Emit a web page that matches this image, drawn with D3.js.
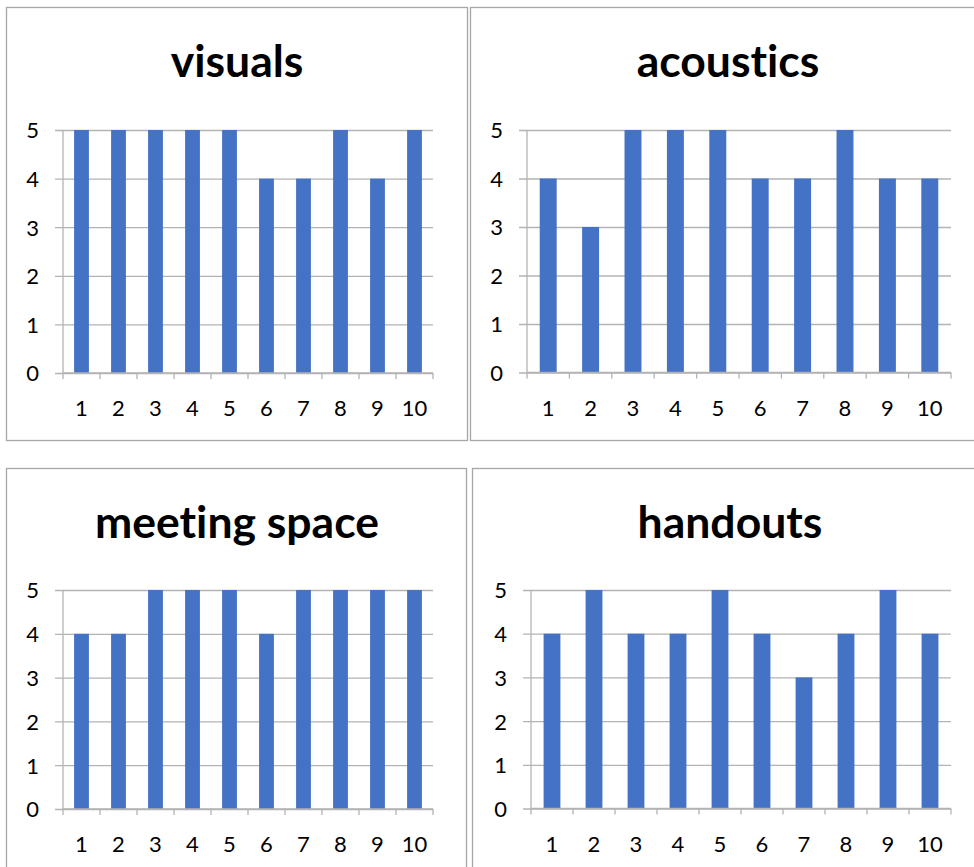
<!DOCTYPE html>
<html>
<head>
<meta charset="utf-8">
<script src="https://cdn.jsdelivr.net/npm/d3@7"></script>
<style>
  html, body { margin: 0; padding: 0; background: #fff; overflow: hidden; }
  svg { display: block; }
  text { font-family: Lato, "Open Sans", "Liberation Sans", sans-serif; fill: #000; font-variant-ligatures: none; }
</style>
</head>
<body>
<script>
// ---- data ----
const categories = ["1","2","3","4","5","6","7","8","9","10"];
const yTicks = [0, 1, 2, 3, 4, 5];
const titles = ["visuals", "acoustics", "meeting space", "handouts"];
const visuals = [5, 5, 5, 5, 5, 4, 4, 5, 4, 5];
const acoustics = [4, 3, 5, 5, 5, 4, 4, 5, 4, 4];
const meetingSpace = [4, 4, 5, 5, 5, 4, 5, 5, 5, 5];
const handouts = [4, 5, 4, 4, 5, 4, 3, 4, 5, 4];
const seriesList = [visuals, acoustics, meetingSpace, handouts];

// ---- layout (pixel geometry of each panel) ----
const panels = [
  { box: [6.5, 7.5, 461, 433], plot: [63, 130, 433, 373], titleX: 237, titleY: 77 },
  { box: [470.5, 7.5, 520, 433], plot: [527, 130, 951, 372.5], titleX: 728, titleY: 77 },
  { box: [6.5, 468.5, 460, 420], plot: [63, 590, 433, 809], titleX: 237, titleY: 538 },
  { box: [472.5, 468.5, 520, 420], plot: [531, 590, 951, 808.5], titleX: 730, titleY: 538 }
];

const W = 974, H = 867;
const svg = d3.select("body").append("svg").attr("width", W).attr("height", H);

const gridColor = "#b3b3b3";
const borderColor = "#a6a6a6";
const barColor = "#4472C4";

panels.forEach((p, i) => {
  const values = seriesList[i];
  const g = svg.append("g");

  g.append("rect")
    .attr("x", p.box[0]).attr("y", p.box[1])
    .attr("width", p.box[2]).attr("height", p.box[3])
    .attr("fill", "#fff").attr("stroke", borderColor).attr("stroke-width", 1.3);

  const [x0, y0, x1, y1] = p.plot;
  const x = d3.scaleBand().domain(categories).range([x0, x1])
    .paddingInner(0.6).paddingOuter(0.3);
  const y = d3.scaleLinear().domain([0, 5]).range([y1, y0]);

  g.append("text")
    .attr("x", p.titleX).attr("y", p.titleY)
    .attr("text-anchor", "middle")
    .style("font-size", "44.5px").style("font-weight", "bold")
    .text(titles[i]);

  const yAxis = d3.axisLeft(y).tickValues(yTicks).tickSize(-(x1 - x0)).tickSizeOuter(0).tickPadding(0)
    .tickFormat(d3.format("d"));
  const ya = g.append("g").attr("transform", `translate(${x0},0)`).call(yAxis);
  ya.select(".domain").remove();
  ya.selectAll(".tick line").attr("stroke", gridColor).attr("stroke-width", 1.3)
    .attr("x1", -8);
  ya.selectAll(".tick text")
    .attr("x", -24).attr("dy", "0.36em")
    .style("font-size", "22px").style("font-family", "Lato, 'Open Sans', sans-serif")
    .attr("fill", "#000");

  g.append("line")
    .attr("x1", x0).attr("x2", x0).attr("y1", y0).attr("y2", y1)
    .attr("stroke", gridColor).attr("stroke-width", 1.3);

  g.selectAll("rect.bar").data(values).enter().append("rect")
    .attr("class", "bar")
    .attr("x", (d, k) => x(categories[k]))
    .attr("width", x.bandwidth())
    .attr("y", d => y(d))
    .attr("height", d => y(0) - y(d))
    .attr("fill", barColor);

  const step = x.step();
  const boundaries = d3.range(categories.length + 1).map(k => x0 + k * step);
  g.append("line")
    .attr("x1", x0).attr("x2", x1).attr("y1", y1).attr("y2", y1)
    .attr("stroke", gridColor).attr("stroke-width", 1.3);
  g.selectAll("line.xt").data(boundaries).enter().append("line")
    .attr("class", "xt")
    .attr("x1", d => d).attr("x2", d => d)
    .attr("y1", y1).attr("y2", y1 + 6)
    .attr("stroke", gridColor).attr("stroke-width", 1.3);

  g.selectAll("text.xl").data(categories).enter().append("text")
    .attr("class", "xl")
    .attr("x", d => x(d) + x.bandwidth() / 2)
    .attr("y", y1 + 43)
    .attr("text-anchor", "middle")
    .style("font-size", "22px")
    .text(d => d);
});
</script>
</body>
</html>
